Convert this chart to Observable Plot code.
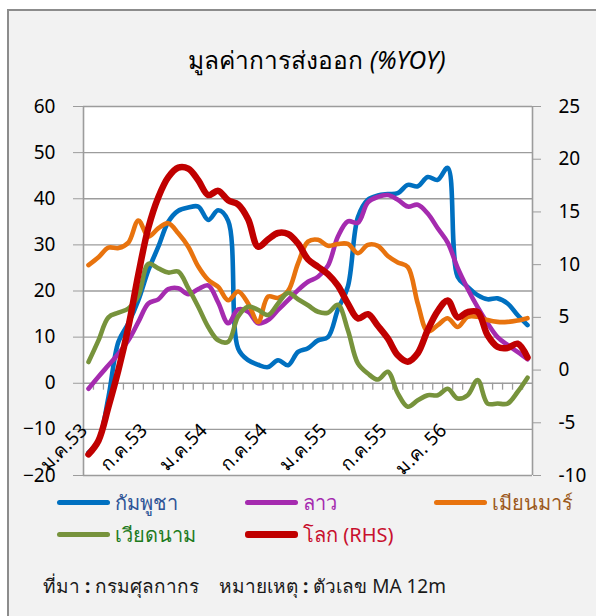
<!DOCTYPE html>
<html><head><meta charset="utf-8">
<script src="https://cdn.jsdelivr.net/npm/d3@7"></script>
<script src="https://cdn.jsdelivr.net/npm/@observablehq/plot@0.6"></script>
<style>
body{margin:0;width:596px;height:616px;background:#fff;position:relative;overflow:hidden;font-family:Tahoma,"Noto Sans","DejaVu Sans",sans-serif;}
#frame{position:absolute;left:7px;top:9px;width:600px;height:620px;background:#F2F2F2;border-left:2px solid #8c8c8c;border-top:2px solid #8c8c8c;}
#title{position:absolute;left:0;width:634px;top:41px;text-align:center;font-size:24.5px;color:#000;white-space:nowrap;}
#chart{position:absolute;left:0;top:86px;}
.sw{position:absolute;height:5px;border-radius:3px;width:53px;}
.lt{position:absolute;font-size:20px;line-height:24px;white-space:nowrap;}
#src{position:absolute;left:43px;top:571px;font-size:19px;color:#1a1a1a;white-space:pre;}
</style></head>
<body>
<div id="frame"></div>
<div id="title">มูลค่าการส่งออก <i>(%YOY)</i></div>
<div id="chart"></div>
<div id="legend"></div>
<div id="src">ที่มา <b>:</b> กรมศุลกากร    หมายเหตุ <b>:</b> ตัวเลข MA 12m</div>
<script>
// Months: Jan 2010 (ม.ค.53) .. Sep 2013, index 0..44
const monthCount = 45;
const labelIdx = [0, 6, 12, 18, 24, 30, 36];
const labelText = ["ม.ค.53", "ก.ค.53", "ม.ค.54", "ก.ค.54", "ม.ค.55", "ก.ค.55", "ม.ค. 56"];

const seriesNames = ["กัมพูชา", "ลาว", "เมียนมาร์", "เวียดนาม", "โลก (RHS)"];
const seriesColors = ["#0070C0", "#A52BAF", "#E8730E", "#77933C", "#C00000"];
const legendTextColors = ["#2F5597", "#A52BAF", "#9C5A1E", "#1E7B1E", "#C8102E"];

const cambodia = [-15, -12.5, -3, 9, 13, 18, 24.5, 29.6, 35, 37.4, 38.1, 38.3, 35.4, 37.5, 35.2, 7.5, 5, 4, 3.5, 5, 3.9, 6.8, 7.6, 9.3, 10, 16, 21, 36, 39.8, 40.7, 41, 41.2, 43, 42.7, 44.7, 44.1, 46.7, 23.1, 20.9, 19.1, 18.2, 18.4, 17.3, 14.8, 12.6];
const laos = [-1.2, 1.4, 3.9, 6.4, 9.3, 13.3, 17.3, 18.2, 20.4, 20.6, 19.3, 20.4, 21.2, 17.5, 13, 16, 15.5, 13, 13.7, 15.9, 18, 20.2, 22, 23.1, 25.5, 31.8, 35.1, 34.8, 39.2, 40.4, 40.8, 39.8, 38.3, 38.7, 36.8, 33.6, 30.5, 25, 20.5, 16.5, 13, 10, 8.3, 6.8, 5.2];
const myanmar = [25.6, 27.3, 29.4, 29.3, 30.5, 35.3, 31.8, 33.6, 34.7, 32.5, 29.6, 25.3, 22.4, 20.9, 18, 19.9, 17.3, 13.3, 18.8, 18.5, 20, 26, 30.7, 31.1, 29.8, 30.2, 30.2, 28.2, 30, 29.8, 27.6, 26.2, 25.2, 17.3, 11.2, 12.6, 14.1, 12.2, 14.4, 14.4, 13.7, 13.3, 13.3, 13.6, 14.1];
const vietnam = [4.6, 9.3, 14.3, 15.3, 16.2, 19, 25.9, 24.9, 24, 24.2, 20.6, 16.6, 12.2, 9.3, 9, 14.5, 16.6, 15.9, 14.8, 17.3, 19.6, 18.2, 16.9, 15.5, 15.3, 17, 11.5, 4.3, 2.1, 0.8, 2.5, -2.2, -5.1, -3.7, -2.6, -2.6, -1.2, -3.3, -2.6, 0.7, -4.4, -4.4, -4.4, -1.9, 1.2];
const worldRHS = [-8, -6.7, -3.5, 0, 4.1, 9.1, 13.5, 16.4, 18.3, 19.2, 19.1, 18, 16.6, 17, 16.1, 15.7, 14.3, 11.7, 12.4, 13, 12.9, 12, 10.5, 9.8, 9.1, 8, 6.3, 4.9, 5.3, 4.2, 3.0, 1.4, 0.8, 1.6, 3.8, 5.6, 6.6, 5.0, 5.5, 5.5, 3.3, 2.2, 2.1, 2.5, 1.2];

const leftTicks = [-20, -10, 0, 10, 20, 30, 40, 50, 60];
const rightTicks = [-10, -5, 0, 5, 10, 15, 20, 25];

// right axis (-10..25) mapped onto left axis (-20..60)
const toLeft = r => -20 + (r + 10) * 80 / 35;
const fromLeft = l => (l + 20) * 35 / 80 - 10;

const seriesValues = [cambodia, laos, myanmar, vietnam, worldRHS.map(toLeft)];
const rows = [];
seriesValues.forEach((vals, s) => vals.forEach((v, i) => rows.push({series: seriesNames[s], i, v})));
const boundaries = d3.range(monthCount - 1).map(i => i + 0.5);
const xLabels = labelIdx.map((i, k) => ({i, t: labelText[k]}));

const font = 'Tahoma, "Noto Sans", "DejaVu Sans", sans-serif';
const gridColor = "#9c9c9c";

const lineMarks = seriesNames.map((name, s) =>
  Plot.line(rows.filter(d => d.series === name), {
    x: "i", y: "v", stroke: seriesColors[s],
    strokeWidth: s === 4 ? 6.5 : 4.6, curve: "catmull-rom",
    strokeLinecap: "round", strokeLinejoin: "round"
  })
);

const chart = Plot.plot({
  width: 596, height: 404,
  marginTop: 20, marginBottom: 15, marginLeft: 83, marginRight: 64,
  style: {fontFamily: font, background: "transparent", color: "#000"},
  x: {domain: [-0.5, monthCount - 0.5], axis: null},
  y: {domain: [-20, 60], axis: null},
  marks: [
    Plot.frame({fill: "white", stroke: null}),
    Plot.gridY(leftTicks, {stroke: gridColor, strokeOpacity: 1, strokeWidth: 1.3}),
    Plot.ruleX([-0.5, monthCount - 0.5], {stroke: gridColor, strokeWidth: 1.6}),
    Plot.axisY(leftTicks, {anchor: "left", tickSize: 10, tickPadding: 18, fontSize: 19, stroke: gridColor, label: null}),
    Plot.axisY(rightTicks.map(toLeft), {anchor: "right", tickSize: 8, tickPadding: 18, fontSize: 19, stroke: gridColor, label: null,
      tickFormat: d => String(Math.round(fromLeft(d)))}),
    Plot.ruleX(boundaries, {x: d => d, y1: 0, y2: -1.5, stroke: gridColor, strokeWidth: 1.3}),
    Plot.text(xLabels, {x: "i", text: "t", frameAnchor: "bottom", dy: -44, rotate: -45, textAnchor: "end", fontSize: 19, fill: "#000"}),
    ...lineMarks
  ]
});
document.getElementById("chart").appendChild(chart);

// legend
const legendPos = [[57, 502], [245, 502], [434, 502], [57, 534], [245, 534]];
const legend = document.getElementById("legend");
seriesNames.forEach((name, s) => {
  const [x, y] = legendPos[s];
  const sw = document.createElement("div");
  sw.className = "sw";
  sw.style.left = x + "px"; sw.style.top = (y - 2.5) + "px";
  sw.style.background = seriesColors[s];
  if (s === 4) { sw.style.height = "7px"; sw.style.top = (y - 3.5) + "px"; }
  legend.appendChild(sw);
  const t = document.createElement("div");
  t.className = "lt";
  t.textContent = name;
  t.style.left = (x + 58) + "px"; t.style.top = (y - 11) + "px";
  t.style.color = legendTextColors[s];
  legend.appendChild(t);
});
</script>
</body></html>
